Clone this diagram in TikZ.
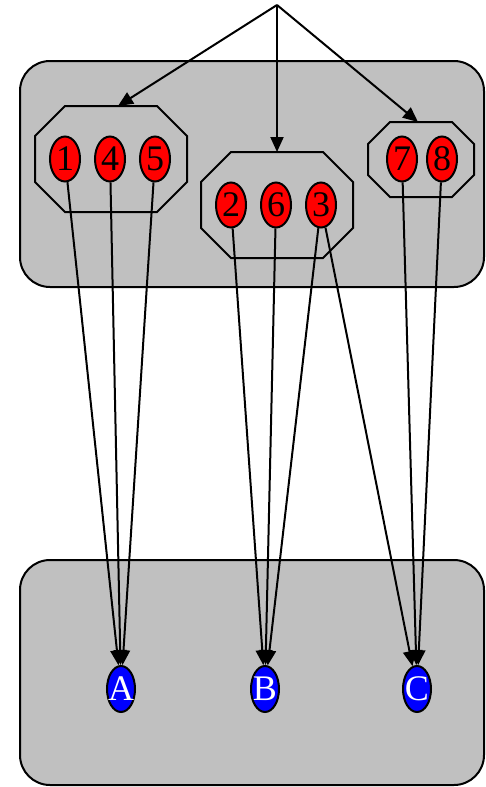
\documentclass[tikz,border=0pt]{standalone}
\usepackage{fontspec}
\setmainfont{Liberation Serif}
\usepackage{mathtools}
\usetikzlibrary{shapes.geometric,arrows.meta}
\definecolor{panelgray}{HTML}{C0C0C0}

\begin{document}
\begin{tikzpicture}[x=1pt,y=-1pt,line width=2pt,
    >={Triangle[length=15pt,width=13pt]},
    panel/.style={draw,fill=panelgray,rounded corners=30pt},
    leaf/.style={ellipse,draw,fill=red,inner sep=0pt,minimum width=30pt,minimum height=45pt,font=\fontsize{36}{36}\selectfont},
    sink/.style={ellipse,draw,fill=blue,text=white,inner sep=0pt,minimum width=28pt,minimum height=46pt,font=\fontsize{36}{36}\selectfont}]
  \useasboundingbox (0,0) rectangle (485,787);
  \draw[panel] (20,61) rectangle (484,287);
  \draw[panel] (20,560) rectangle (484,785);
  \coordinate (top) at (277,5);
  \foreach \nm/\cx/\cy/\a/\b/\c/\dx in {%
    L/111/159/76/53/30/7,
    M/277/205/76/53/30/0,
    R/421/159.5/53/37.5/22/-3}{%
      \begin{scope}[shift={(\cx,\cy)}]
        \draw (-\a+\c,-\b)--(\a-\c,-\b)--(\a,-\b+\c)--(\a,\b-\c)--(\a-\c,\b)--(-\a+\c,\b)--(-\a,\b-\c)--(-\a,-\b+\c)--cycle;
        \coordinate (\nm) at (\dx,-\b);
      \end{scope}
    }
  \foreach \t/\x/\y in {1/65/159,4/110/159,5/155/159,2/231/205,6/276/205,3/321/205,7/402/159,8/442/159}{%
    \node[leaf] (n\t) at (\x,\y) {\clap{\t}};
  }
  \foreach \t/\x in {A/121,B/265,C/417}{%
    \node[sink] (\t) at (\x,689) {\clap{\t}};
  }
  \foreach \s in {L,M,R}{%
    \draw[->] (top) -- (\s);
  }
  \foreach \s/\d in {1/A,4/A,5/A,2/B,6/B,3/B,3/C,7/C,8/C}{%
    \draw[->] (n\s) -- (\d);
  }
\end{tikzpicture}
\end{document}
